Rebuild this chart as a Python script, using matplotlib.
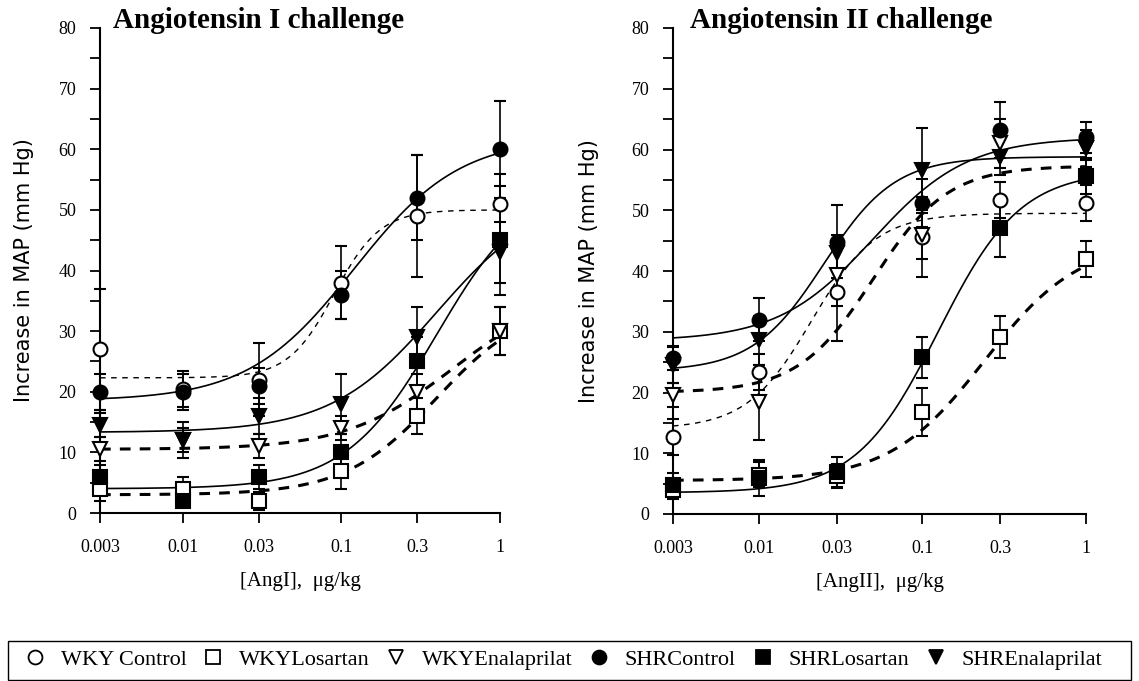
import numpy as np
import matplotlib
matplotlib.use('Agg')
import matplotlib.pyplot as plt
from matplotlib.lines import Line2D
from matplotlib.patches import Rectangle

plt.rcParams['font.family'] = ['Liberation Serif', 'DejaVu Serif']

dose = [0.003, 0.01, 0.03, 0.1, 0.3, 1]
dose_labels = ['0.003', '0.01', '0.03', '0.1', '0.3', '1']

names = ['WKY Control', 'WKYLosartan', 'WKYEnalaprilat',
         'SHRControl', 'SHRLosartan', 'SHREnalaprilat']

# Angiotensin I challenge, mean and error
ang1_wky_ctrl = [27, 20.5, 22, 38, 49, 51]
ang1_wky_los = [4, 4, 2, 7, 16, 30]
ang1_wky_enal = [10.5, 12, 11, 14, 20, 30]
ang1_shr_ctrl = [20, 20, 21, 36, 52, 60]
ang1_shr_los = [6, 2, 6, 10, 25, 45]
ang1_shr_enal = [14.5, 12, 16, 18, 29, 43]

ang1_wky_ctrl_err = [10, 3, 6, 6, 10, 5]
ang1_wky_los_err = [2, 2, 1.5, 3, 3, 4]
ang1_wky_enal_err = [2, 2, 2, 2, 3, 4]
ang1_shr_ctrl_err = [3, 3, 3, 4, 7, 8]
ang1_shr_los_err = [2, 1, 2, 3, 4, 9]
ang1_shr_enal_err = [2, 3, 3, 5, 5, 5]

# Angiotensin II challenge
ang2_wky_ctrl = [12.7, 23.4, 36.5, 45.6, 51.7, 51.2]
ang2_wky_los = [4, 6.5, 6.3, 16.8, 29.1, 42]
ang2_wky_enal = [19.6, 18.4, 39.3, 46, 61, 60.2]
ang2_shr_ctrl = [25.7, 32, 44.8, 51.2, 63.2, 62]
ang2_shr_los = [4.8, 5.9, 6.9, 25.8, 47, 55.6]
ang2_shr_enal = [24.5, 28.6, 43, 56.6, 58.8, 60.2]

ang2_wky_ctrl_err = [3, 3, 8, 6.6, 3, 3]
ang2_wky_los_err = [1.5, 2, 2, 3.9, 3.5, 3]
ang2_wky_enal_err = [2, 6.2, 5, 4, 4, 3]
ang2_shr_ctrl_err = [2, 3.5, 6, 4, 4.6, 2.5]
ang2_shr_los_err = [2, 3, 2.5, 3.4, 4.7, 3]
ang2_shr_enal_err = [3, 4, 3, 7, 3, 2]

# fitted sigmoid params: bottom, top, EC50, hill
ang1_fit_bottom = [22.3, 3, 10.5, 18.5, 4, 13.3]
ang1_fit_top = [50, 35, 37, 62, 55, 53]
ang1_fit_ec50 = [0.09, 0.4, 0.5, 0.12, 0.4, 0.4]
ang1_fit_hill = [3.0, 1.5, 1.3, 1.3, 1.5, 1.3]

ang2_fit_bottom = [14, 5.5, 20, 28.5, 3.5, 23.5]
ang2_fit_top = [49.5, 45, 57.3, 62, 56.5, 58.8]
ang2_fit_ec50 = [0.021, 0.24, 0.05, 0.05, 0.125, 0.025]
ang2_fit_hill = [2.2, 1.5, 1.9, 1.5, 1.73, 2.0]

markers = ['o', 's', 'v', 'o', 's', 'v']
faces = ['white', 'white', 'white', 'black', 'black', 'black']
line_styles = [(0, (4, 4)), (0, (3.5, 3)), (0, (3.5, 3)), '-', '-', '-']
line_widths = [1.0, 2.2, 2.2, 1.2, 1.2, 1.2]

panels = [
    ('Angiotensin I challenge', '[AngI],  \u03bcg/kg',
     [ang1_wky_ctrl, ang1_wky_los, ang1_wky_enal, ang1_shr_ctrl, ang1_shr_los, ang1_shr_enal],
     [ang1_wky_ctrl_err, ang1_wky_los_err, ang1_wky_enal_err,
      ang1_shr_ctrl_err, ang1_shr_los_err, ang1_shr_enal_err],
     (ang1_fit_bottom, ang1_fit_top, ang1_fit_ec50, ang1_fit_hill)),
    ('Angiotensin II challenge', '[AngII],  \u03bcg/kg',
     [ang2_wky_ctrl, ang2_wky_los, ang2_wky_enal, ang2_shr_ctrl, ang2_shr_los, ang2_shr_enal],
     [ang2_wky_ctrl_err, ang2_wky_los_err, ang2_wky_enal_err,
      ang2_shr_ctrl_err, ang2_shr_los_err, ang2_shr_enal_err],
     (ang2_fit_bottom, ang2_fit_top, ang2_fit_ec50, ang2_fit_hill)),
]

fig = plt.figure(figsize=(11.39, 6.81), dpi=100)
ax_boxes = [[100/1139, 1-513/681, 400/1139, 485/681],
            [673/1139, 1-514/681, 413/1139, 486/681]]
title_x = [0.033, 0.041]
ylabel_x = [-0.165, -0.18]

xs = np.logspace(np.log10(0.003), 0, 200)

for k, (box, (title, xlabel, means, errs, fit)) in enumerate(zip(ax_boxes, panels)):
    ax = fig.add_axes(box)
    bottom, top, ec50, hill = fit
    for i in range(6):
        curve = bottom[i] + (top[i] - bottom[i]) / (1 + 10 ** ((np.log10(ec50[i]) - np.log10(xs)) * hill[i]))
        ax.plot(xs, curve, color='black', linestyle=line_styles[i],
                linewidth=line_widths[i], clip_on=False, zorder=2)
    for i in range(6):
        ax.errorbar(dose, means[i], yerr=errs[i], fmt=markers[i], color='black',
                    mfc=faces[i], mec='black', mew=1.5, ms=10, capsize=4,
                    elinewidth=1.2, capthick=1.2, clip_on=False, zorder=3)

    ax.set_xscale('log')
    ax.set_xlim(0.003, 1)
    ax.set_ylim(0, 80)
    ax.set_xticks(dose)
    ax.set_xticklabels(dose_labels)
    ax.xaxis.set_minor_locator(plt.NullLocator())
    ax.set_yticks(range(0, 81, 10))
    ax.set_yticks(range(5, 80, 10), minor=True)
    ax.tick_params(axis='both', which='both', direction='out', length=7,
                   width=1.3, labelsize=13, colors='black')
    ax.tick_params(axis='x', pad=12)
    ax.tick_params(axis='y', pad=10)
    for s in ['top', 'right']:
        ax.spines[s].set_visible(False)
    for s in ['left', 'bottom']:
        ax.spines[s].set_linewidth(1.5)
    ax.set_xlabel(xlabel, fontsize=15, labelpad=11)
    ax.set_ylabel('Increase in MAP (mm Hg)', fontsize=15,
                  family=['DejaVu Sans'])
    ax.yaxis.set_label_coords(ylabel_x[k], 0.5)
    ax.text(title_x[k], 1.0, title, transform=ax.transAxes, fontsize=21,
            fontweight='bold', ha='left', va='baseline')

handles = []
for i in range(6):
    handles.append(Line2D([], [], linestyle='none', marker=markers[i],
                          mfc=faces[i], mec='black', mew=1.3, ms=10, color='black'))

leg = fig.legend(handles, names, loc='center left', ncol=6,
                 bbox_to_anchor=(22/1139, 1-660/681),
                 fontsize=16, frameon=False, handletextpad=0.55,
                 borderaxespad=0, borderpad=0, handlelength=1.2,
                 columnspacing=0.6)

fig.add_artist(Rectangle((8/1139, 1-680/681), 1123/1139, 39/681,
                         transform=fig.transFigure, fill=False,
                         edgecolor='black', linewidth=1.0))

fig.savefig('out.png', dpi=100)
